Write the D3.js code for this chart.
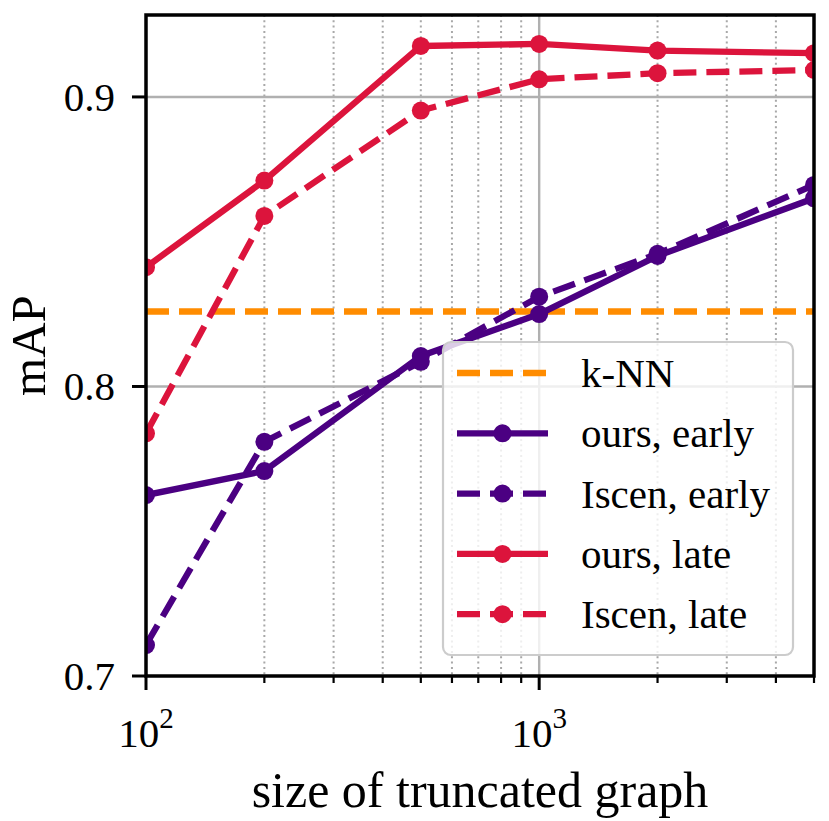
<!DOCTYPE html>
<html>
<head>
<meta charset="utf-8">
<script src="https://cdn.jsdelivr.net/npm/d3@7"></script>
<style>
  html, body { margin: 0; padding: 0; background: #fff; }
  svg { display: block; }
  text { font-family: "Liberation Serif", "DejaVu Serif", serif; fill: #000; }
</style>
</head>
<body>
<svg id="chart" width="829" height="821"></svg>
<script>
// ---- data ----
const sizes = [100, 200, 500, 1000, 2000, 5000];
const oursEarly  = [0.7625, 0.7708, 0.8105, 0.8250, 0.8451, 0.8650];
const iscenEarly = [0.7107, 0.7809, 0.8085, 0.8310, 0.8458, 0.8696];
const oursLate   = [0.8412, 0.8711, 0.9176, 0.9183, 0.9160, 0.9151];
const iscenLate  = [0.7838, 0.8589, 0.8953, 0.9061, 0.9082, 0.9093];
const knnValue = 0.8259;
const yTicks = [0.7, 0.8, 0.9];
const yTickLabels = ["0.7", "0.8", "0.9"];
const xMajorTicks = [100, 1000];
const xMajorLabels = ["2", "3"]; // exponents of 10
const xMinorTicks = [200, 300, 400, 500, 600, 700, 800, 900, 2000, 3000, 4000, 5000];
const xDomain = [100, 5000];
const yDomain = [0.7, 0.9283];
const legendLabels = ["k-NN", "ours, early", "Iscen, early", "ours, late", "Iscen, late"];

const series = [
  { name: "ours, early",  values: oursEarly,  color: "#4B0082", dashed: false },
  { name: "Iscen, early", values: iscenEarly, color: "#4B0082", dashed: true },
  { name: "ours, late",   values: oursLate,   color: "#DC143C", dashed: false },
  { name: "Iscen, late",  values: iscenLate,  color: "#DC143C", dashed: true },
];

// ---- layout ----
const L = 146, R = 814, T = 15, B = 676;
const svg = d3.select("#chart");
const x = d3.scaleLog().domain(xDomain).range([L, R]);
const y = d3.scaleLinear().domain(yDomain).range([B, T]);
const DASH = "23,10";
const LW = 6.3;
const MR = 9;

svg.append("defs").append("clipPath").attr("id", "clip")
  .append("rect").attr("x", L).attr("y", T).attr("width", R - L).attr("height", B - T);

// grid
const grid = svg.append("g");
grid.selectAll("line.minor").data(xMinorTicks.filter(d => d < xDomain[1])).join("line")
  .attr("x1", d => x(d)).attr("x2", d => x(d)).attr("y1", T).attr("y2", B)
  .attr("stroke", "#a8a8a8").attr("stroke-width", 2).attr("stroke-dasharray", "2,3.3");
grid.selectAll("line.majx").data(xMajorTicks.filter(d => d > xDomain[0])).join("line")
  .attr("x1", d => x(d)).attr("x2", d => x(d)).attr("y1", T).attr("y2", B)
  .attr("stroke", "#b0b0b0").attr("stroke-width", 2.4);
grid.selectAll("line.majy").data(yTicks.filter(d => d > yDomain[0])).join("line")
  .attr("x1", L).attr("x2", R).attr("y1", d => y(d)).attr("y2", d => y(d))
  .attr("stroke", "#b0b0b0").attr("stroke-width", 2.4);

// plot content
const plot = svg.append("g").attr("clip-path", "url(#clip)");
plot.append("line")
  .attr("x1", L).attr("x2", R).attr("y1", y(knnValue)).attr("y2", y(knnValue))
  .attr("stroke", "#FF8C00").attr("stroke-width", LW).attr("stroke-dasharray", DASH);

const line = d3.line().x(d => x(d[0])).y(d => y(d[1]));
series.forEach(s => {
  const pts = sizes.map((v, i) => [v, s.values[i]]);
  plot.append("path").datum(pts).attr("d", line)
    .attr("fill", "none").attr("stroke", s.color).attr("stroke-width", LW)
    .attr("stroke-dasharray", s.dashed ? DASH : null)
    .attr("stroke-linejoin", "round");
  plot.selectAll(null).data(pts).join("circle")
    .attr("cx", d => x(d[0])).attr("cy", d => y(d[1])).attr("r", MR)
    .attr("fill", s.color);
});

// spines
svg.append("rect").attr("x", L).attr("y", T).attr("width", R - L).attr("height", B - T)
  .attr("fill", "none").attr("stroke", "#000").attr("stroke-width", 3.5);

// y ticks
const yAx = svg.append("g");
yAx.selectAll("line").data(yTicks).join("line")
  .attr("x1", L - 14).attr("x2", L).attr("y1", d => y(d)).attr("y2", d => y(d))
  .attr("stroke", "#000").attr("stroke-width", 3);
yAx.selectAll("text").data(yTicks).join("text")
  .attr("x", L - 31).attr("y", d => y(d) + 14)
  .attr("text-anchor", "end").attr("font-size", 41)
  .text((d, i) => yTickLabels[i]);

// x ticks
const xAx = svg.append("g");
xAx.selectAll("line.minor").data(xMinorTicks).join("line")
  .attr("x1", d => x(d)).attr("x2", d => x(d)).attr("y1", B).attr("y2", B + 7)
  .attr("stroke", "#000").attr("stroke-width", 2.2);
xAx.selectAll("line.major").data(xMajorTicks).join("line")
  .attr("x1", d => x(d)).attr("x2", d => x(d)).attr("y1", B).attr("y2", B + 14)
  .attr("stroke", "#000").attr("stroke-width", 3);
const xl = xAx.selectAll("text").data(xMajorTicks).join("text")
  .attr("x", d => x(d)).attr("y", 747)
  .attr("text-anchor", "middle").attr("font-size", 41);
xl.append("tspan").text("10");
xl.append("tspan").attr("dy", -19).attr("font-size", 29).text((d, i) => xMajorLabels[i]);

// axis labels
svg.append("text").attr("x", (L + R) / 2).attr("y", 807)
  .attr("text-anchor", "middle").attr("font-size", 50)
  .text("size of truncated graph");
svg.append("text")
  .attr("transform", `translate(44.5,${(T + B) / 2}) rotate(-90)`)
  .attr("text-anchor", "middle").attr("font-size", 49)
  .text("mAP");

// legend
const lg = svg.append("g");
lg.append("rect").attr("x", 443).attr("y", 342).attr("width", 350).attr("height", 313)
  .attr("rx", 8).attr("ry", 8)
  .attr("fill", "#fff").attr("fill-opacity", 0.8)
  .attr("stroke", "#cccccc").attr("stroke-width", 2.2);
const legendItems = [
  { color: "#FF8C00", dashed: true, marker: false },
  { color: series[0].color, dashed: series[0].dashed, marker: true },
  { color: series[1].color, dashed: series[1].dashed, marker: true },
  { color: series[2].color, dashed: series[2].dashed, marker: true },
  { color: series[3].color, dashed: series[3].dashed, marker: true },
];
legendItems.forEach((it, i) => {
  const cy = 373 + i * 60.3;
  lg.append("line").attr("x1", 457).attr("x2", 548).attr("y1", cy).attr("y2", cy)
    .attr("stroke", it.color).attr("stroke-width", LW)
    .attr("stroke-dasharray", it.dashed ? DASH : null);
  if (it.marker) lg.append("circle").attr("cx", 502.5).attr("cy", cy).attr("r", MR).attr("fill", it.color);
  lg.append("text").attr("x", 581).attr("y", cy + 14).attr("font-size", 41).text(legendLabels[i]);
});
</script>
</body>
</html>
